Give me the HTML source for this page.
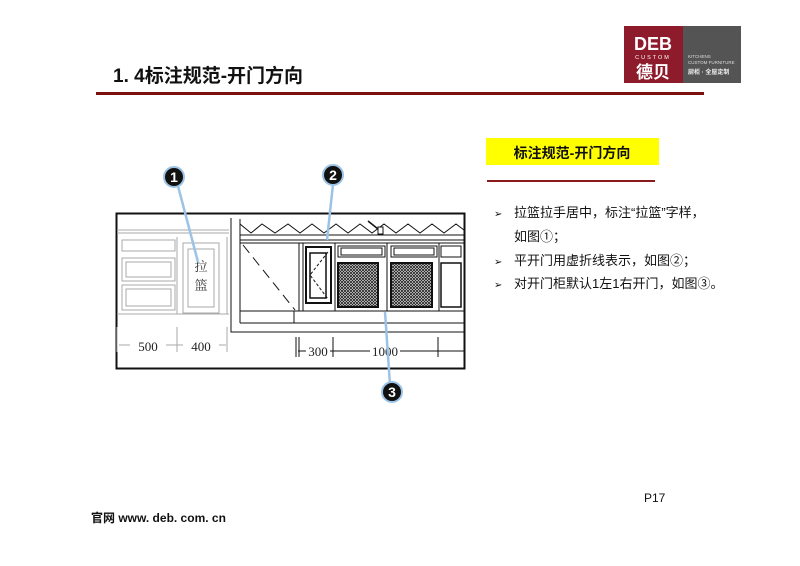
<!DOCTYPE html>
<html><head><meta charset="utf-8"><style>
body{margin:0;background:#fff;}
svg{display:block;}
text{font-family:"Liberation Sans","Noto Sans CJK SC",sans-serif;}
</style></head><body>
<svg width="800" height="566" viewBox="0 0 800 566" xmlns="http://www.w3.org/2000/svg">
<defs>
<pattern id="mesh" width="3" height="3" patternUnits="userSpaceOnUse">
<rect width="3" height="3" fill="#fff"/><path d="M0 0L3 3M3 0L0 3" stroke="#222" stroke-width="0.9"/>
</pattern>
</defs>
<!-- header -->
<text x="113" y="82" font-size="19" font-weight="bold" fill="#111">1. 4标注规范-开门方向</text>
<rect x="96" y="92" width="608" height="3" fill="#7a1010"/>
<!-- logo -->
<rect x="624" y="26" width="59" height="57" fill="#8e1b2c"/>
<rect x="683" y="26" width="58" height="57" fill="#545454"/>
<text x="653" y="50" font-size="18" font-weight="bold" fill="#fff" text-anchor="middle">DEB</text>
<text x="653" y="59" font-size="5.5" fill="#fff" text-anchor="middle" letter-spacing="2">CUSTOM</text>
<text x="653" y="78" font-size="17" font-weight="bold" fill="#fff" text-anchor="middle">德贝</text>
<text x="688" y="58" font-size="4.5" fill="#ddd">KITCHENS</text>
<text x="688" y="64" font-size="4.5" fill="#ddd">CUSTOM FURNITURE</text>
<text x="688" y="74" font-size="6" fill="#eee" font-weight="bold">厨柜 · 全屋定制</text>

<!-- diagram frame -->
<rect x="116.5" y="213.5" width="348" height="155" fill="#fff" stroke="#111" stroke-width="2"/>
<!-- left part (light gray) -->
<g stroke="#aaa" fill="none" stroke-width="1">
<line x1="117" y1="230" x2="229" y2="230"/><line x1="117" y1="233" x2="229" y2="233"/>
<line x1="117" y1="314" x2="229" y2="314"/>
<line x1="177" y1="237" x2="177" y2="314"/><line x1="227" y1="237" x2="227" y2="314"/>
<rect x="122" y="240" width="53" height="11"/>
<rect x="122" y="258" width="53" height="23"/><rect x="126" y="262" width="45" height="15"/>
<rect x="122" y="285" width="53" height="25"/><rect x="126" y="289" width="45" height="17"/>
<rect x="183" y="243" width="36" height="70"/><rect x="188" y="249" width="26" height="58"/>
<line x1="117" y1="327" x2="117" y2="352"/><line x1="177" y1="327" x2="177" y2="352"/><line x1="227" y1="327" x2="227" y2="352"/>
<line x1="119" y1="345" x2="226" y2="345"/>
</g>
<rect x="130" y="338" width="36" height="14" fill="#fff"/>
<rect x="183" y="338" width="36" height="14" fill="#fff"/>
<text x="148" y="351" font-size="13" text-anchor="middle" fill="#222" style="font-family:'Liberation Serif',serif">500</text>
<text x="201" y="351" font-size="13" text-anchor="middle" fill="#222" style="font-family:'Liberation Serif',serif">400</text>
<text x="201" y="271" font-size="13" text-anchor="middle" fill="#333" style="font-family:'Noto Serif CJK SC',serif">拉</text>
<text x="201" y="290" font-size="13" text-anchor="middle" fill="#333" style="font-family:'Noto Serif CJK SC',serif">篮</text>

<!-- right part -->
<g stroke="#111" fill="none" stroke-width="1">
<polyline points="231,218 231,332 464,332"/>
<line x1="240" y1="219" x2="240" y2="323"/>
<polyline points="240,224 251,233 262,224 275,233 288,224 300,233 312,224 324,233 336,224 348,233 360,224 372,233 384,224 396,233 408,224 420,233 432,224 444,233 456,224 464,230"/>
<line x1="240" y1="235" x2="464" y2="235"/><line x1="240" y1="240" x2="464" y2="240"/>
<line x1="240" y1="243" x2="464" y2="243"/>
<line x1="240" y1="311" x2="464" y2="311"/>
<line x1="240" y1="323" x2="464" y2="323"/>
<line x1="294" y1="311" x2="294" y2="323"/>
<line x1="299" y1="243" x2="299" y2="311"/>
<line x1="303" y1="243" x2="303" y2="311"/>
<line x1="335" y1="243" x2="335" y2="311"/>
<line x1="387" y1="243" x2="387" y2="311"/>
<line x1="439" y1="243" x2="439" y2="311"/>
<line x1="243" y1="245" x2="295" y2="310" stroke-dasharray="10,6"/>
<rect x="306" y="247" width="25" height="56" stroke-width="2"/>
<rect x="310" y="253" width="16" height="45" stroke-width="1.5"/>
<polyline points="328,252 310,275 328,299" stroke-dasharray="3,2"/>
<rect x="338" y="246" width="47" height="11"/><rect x="341" y="248" width="41" height="7"/>
<rect x="391" y="246" width="46" height="11"/><rect x="394" y="248" width="40" height="7"/>
<rect x="441" y="246" width="20" height="11"/>
<rect x="441" y="263" width="20" height="44" stroke-width="1.5"/>
<line x1="464" y1="220" x2="464" y2="332"/>
</g>
<rect x="338" y="263" width="40" height="44" fill="url(#mesh)" stroke="#111" stroke-width="2"/>
<rect x="391" y="263" width="41" height="44" fill="url(#mesh)" stroke="#111" stroke-width="2"/>
<rect x="378" y="227" width="5" height="7" fill="#fff" stroke="#111"/>
<line x1="368" y1="221" x2="378" y2="229" stroke="#111" stroke-width="1.5"/>
<!-- right dims -->
<g stroke="#111" stroke-width="1">
<line x1="296" y1="337" x2="296" y2="357"/><line x1="299" y1="337" x2="299" y2="357"/>
<line x1="333" y1="337" x2="333" y2="357"/><line x1="438" y1="337" x2="438" y2="357"/>
<line x1="298" y1="351" x2="464" y2="351"/>
</g>
<rect x="306" y="344" width="24" height="13" fill="#fff"/>
<rect x="370" y="344" width="30" height="13" fill="#fff"/>
<text x="318" y="356" font-size="13" text-anchor="middle" fill="#222" style="font-family:'Liberation Serif',serif">300</text>
<text x="385" y="356" font-size="13" text-anchor="middle" fill="#222" style="font-family:'Liberation Serif',serif">1000</text>

<!-- leaders & bubbles -->
<g stroke="#9cc3e6" stroke-width="2.5">
<line x1="178" y1="186" x2="198" y2="262"/>
<line x1="333" y1="184" x2="327" y2="240"/>
<line x1="385" y1="312" x2="390" y2="385"/>
</g>
<g stroke="#9cc3e6" stroke-width="2" fill="#111">
<circle cx="174" cy="177" r="10"/><circle cx="333" cy="175" r="10"/><circle cx="392" cy="392" r="10"/>
</g>
<g fill="#fff" font-size="14" font-weight="bold" text-anchor="middle">
<text x="174" y="182">1</text><text x="333" y="180">2</text><text x="392" y="397">3</text>
</g>

<!-- right text -->
<rect x="486" y="138" width="173" height="27" fill="#ffff00"/>
<text x="572" y="158" font-size="14" font-weight="bold" text-anchor="middle" fill="#111">标注规范-开门方向</text>
<rect x="487" y="180" width="168" height="2" fill="#8b1a1a"/>
<g font-size="13" fill="#111">
<text x="494" y="217" font-size="10">➢</text><text x="514" y="217">拉篮拉手居中，标注“拉篮”字样，</text>
<text x="514" y="241">如图①；</text>
<text x="494" y="265" font-size="10">➢</text><text x="514" y="265">平开门用虚折线表示，如图②；</text>
<text x="494" y="288" font-size="10">➢</text><text x="514" y="288">对开门柜默认1左1右开门，如图③。</text>
</g>

<!-- footer -->
<text x="644" y="502" font-size="12" fill="#111">P17</text>
<text x="91" y="522" font-size="12" font-weight="bold" fill="#111">官网  www. deb. com. cn</text>
</svg>
</body></html>
